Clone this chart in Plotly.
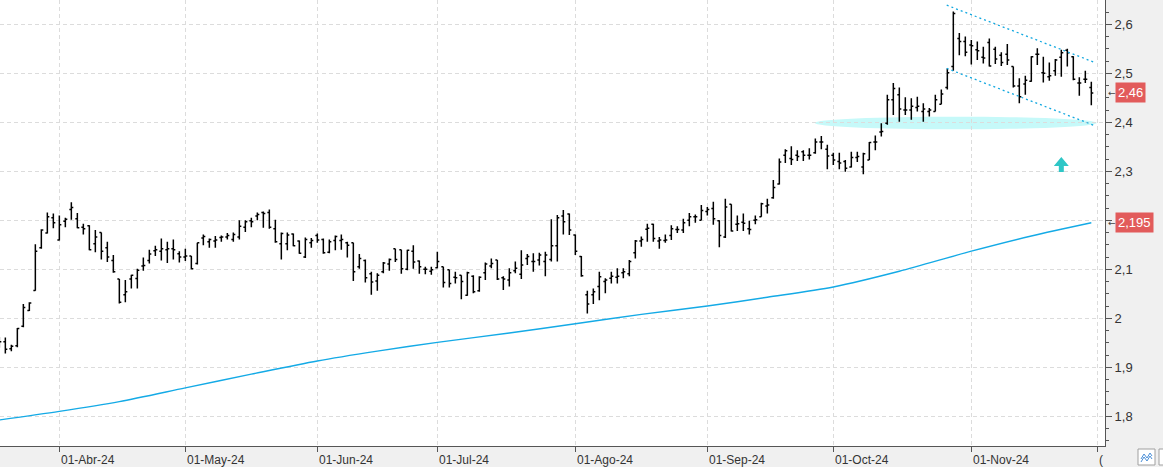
import pandas as pd
import plotly.graph_objects as go

# ---------------- data ----------------
holidays = ["2024-03-29", "2024-04-01", "2024-05-01"]
dates = [d for d in pd.bdate_range("2024-03-15", "2024-11-29") if d.strftime("%Y-%m-%d") not in holidays]

open_ = [1.950, 1.952, 1.938, 1.944, 1.984, 2.016, 2.057, 2.144, 2.174, 2.205,
         2.160, 2.198, 2.222, 2.203, 2.186, 2.189, 2.152, 2.175, 2.144, 2.118,
         2.080, 2.048, 2.080, 2.081, 2.107, 2.118, 2.138, 2.137, 2.140, 2.142,
         2.132, 2.125, 2.127, 2.112, 2.164, 2.156, 2.158, 2.165, 2.166, 2.161,
         2.166, 2.186, 2.199, 2.209, 2.216, 2.216, 2.183, 2.152, 2.152, 2.172,
         2.158, 2.125, 2.154, 2.169, 2.161, 2.135, 2.159, 2.159, 2.154, 2.154,
         2.105, 2.118, 2.091, 2.076, 2.095, 2.111, 2.142, 2.140, 2.100, 2.137,
         2.117, 2.100, 2.096, 2.103, 2.105, 2.099, 2.084, 2.088, 2.047, 2.086,
         2.056, 2.093, 2.107, 2.119, 2.083, 2.078, 2.097, 2.090, 2.122, 2.116,
         2.119, 2.116, 2.120, 2.148, 2.209, 2.213, 2.170, 2.126, 2.048, 2.048,
         2.065, 2.075, 2.082, 2.084, 2.093, 2.091, 2.134, 2.158, 2.182, 2.192,
         2.158, 2.159, 2.169, 2.181, 2.180, 2.200, 2.207, 2.200, 2.218, 2.224,
         2.199, 2.166, 2.233, 2.192, 2.196, 2.183, 2.200, 2.207, 2.229, 2.246,
         2.274, 2.333, 2.326, 2.333, 2.340, 2.333, 2.338, 2.360, 2.345, 2.333,
         2.320, 2.320, 2.309, 2.328, 2.309, 2.323, 2.360, 2.380, 2.398, 2.446,
         2.456, 2.425, 2.425, 2.430, 2.422, 2.422, 2.422, 2.437, 2.471, 2.514,
         2.571, 2.565, 2.558, 2.548, 2.533, 2.563, 2.549, 2.537, 2.539, 2.514,
         2.474, 2.478, 2.484, 2.539, 2.501, 2.493, 2.505, 2.533, 2.547, 2.534,
         2.480, 2.488, 2.471]
high = [1.962, 1.961, 1.946, 1.980, 2.029, 2.033, 2.151, 2.182, 2.216, 2.214,
        2.210, 2.205, 2.237, 2.215, 2.193, 2.190, 2.180, 2.175, 2.156, 2.129,
        2.080, 2.078, 2.089, 2.101, 2.124, 2.140, 2.148, 2.163, 2.156, 2.161,
        2.137, 2.142, 2.127, 2.154, 2.171, 2.163, 2.168, 2.169, 2.174, 2.175,
        2.200, 2.200, 2.205, 2.216, 2.218, 2.222, 2.201, 2.175, 2.175, 2.173,
        2.159, 2.165, 2.164, 2.173, 2.163, 2.161, 2.169, 2.171, 2.156, 2.154,
        2.131, 2.120, 2.095, 2.092, 2.115, 2.122, 2.142, 2.140, 2.140, 2.149,
        2.118, 2.105, 2.105, 2.136, 2.105, 2.099, 2.095, 2.088, 2.095, 2.088,
        2.086, 2.114, 2.122, 2.119, 2.086, 2.102, 2.116, 2.139, 2.131, 2.133,
        2.134, 2.136, 2.202, 2.211, 2.221, 2.214, 2.171, 2.127, 2.056, 2.061,
        2.095, 2.082, 2.095, 2.102, 2.102, 2.119, 2.160, 2.167, 2.193, 2.193,
        2.166, 2.171, 2.190, 2.188, 2.203, 2.215, 2.212, 2.231, 2.227, 2.238,
        2.200, 2.244, 2.233, 2.210, 2.214, 2.199, 2.210, 2.236, 2.244, 2.282,
        2.326, 2.345, 2.351, 2.343, 2.343, 2.347, 2.367, 2.372, 2.354, 2.338,
        2.338, 2.323, 2.340, 2.340, 2.338, 2.360, 2.373, 2.398, 2.456, 2.480,
        2.471, 2.451, 2.449, 2.452, 2.439, 2.429, 2.456, 2.467, 2.510, 2.626,
        2.582, 2.575, 2.568, 2.565, 2.554, 2.571, 2.554, 2.543, 2.560, 2.514,
        2.490, 2.495, 2.535, 2.551, 2.534, 2.522, 2.529, 2.548, 2.550, 2.535,
        2.492, 2.505, 2.483]
low = [1.940, 1.928, 1.933, 1.941, 1.982, 2.015, 2.056, 2.142, 2.173, 2.184,
       2.159, 2.186, 2.201, 2.184, 2.171, 2.139, 2.135, 2.120, 2.115, 2.093,
       2.030, 2.033, 2.061, 2.061, 2.097, 2.112, 2.127, 2.118, 2.113, 2.120,
       2.114, 2.117, 2.100, 2.110, 2.149, 2.144, 2.144, 2.156, 2.161, 2.156,
       2.161, 2.176, 2.186, 2.200, 2.185, 2.183, 2.154, 2.120, 2.139, 2.147,
       2.132, 2.123, 2.144, 2.154, 2.132, 2.133, 2.139, 2.140, 2.124, 2.076,
       2.101, 2.073, 2.048, 2.056, 2.092, 2.097, 2.115, 2.091, 2.098, 2.101,
       2.091, 2.090, 2.089, 2.102, 2.063, 2.063, 2.071, 2.039, 2.046, 2.051,
       2.054, 2.078, 2.102, 2.078, 2.058, 2.065, 2.092, 2.080, 2.109, 2.095,
       2.108, 2.086, 2.116, 2.116, 2.171, 2.170, 2.129, 2.085, 2.010, 2.029,
       2.037, 2.051, 2.071, 2.071, 2.082, 2.086, 2.122, 2.146, 2.156, 2.156,
       2.142, 2.154, 2.160, 2.174, 2.174, 2.188, 2.195, 2.200, 2.210, 2.191,
       2.145, 2.164, 2.177, 2.178, 2.178, 2.171, 2.192, 2.207, 2.214, 2.244,
       2.273, 2.317, 2.313, 2.321, 2.321, 2.324, 2.336, 2.345, 2.304, 2.313,
       2.304, 2.299, 2.308, 2.319, 2.294, 2.323, 2.343, 2.371, 2.395, 2.415,
       2.401, 2.415, 2.405, 2.422, 2.401, 2.412, 2.422, 2.437, 2.467, 2.505,
       2.537, 2.535, 2.518, 2.527, 2.520, 2.514, 2.519, 2.515, 2.517, 2.471,
       2.439, 2.456, 2.483, 2.517, 2.481, 2.485, 2.495, 2.493, 2.514, 2.486,
       2.454, 2.480, 2.435]
close = [1.952, 1.937, 1.943, 1.979, 2.022, 2.031, 2.137, 2.180, 2.207, 2.195,
         2.191, 2.202, 2.226, 2.185, 2.183, 2.140, 2.166, 2.137, 2.125, 2.095,
         2.033, 2.054, 2.088, 2.098, 2.108, 2.131, 2.140, 2.142, 2.142, 2.140,
         2.125, 2.127, 2.101, 2.154, 2.167, 2.161, 2.160, 2.166, 2.169, 2.171,
         2.188, 2.197, 2.197, 2.212, 2.214, 2.186, 2.156, 2.173, 2.170, 2.148,
         2.133, 2.161, 2.159, 2.160, 2.134, 2.156, 2.167, 2.161, 2.149, 2.095,
         2.122, 2.083, 2.074, 2.088, 2.113, 2.120, 2.120, 2.101, 2.139, 2.115,
         2.105, 2.100, 2.099, 2.116, 2.073, 2.071, 2.083, 2.075, 2.093, 2.054,
         2.084, 2.111, 2.112, 2.080, 2.080, 2.093, 2.102, 2.109, 2.126, 2.116,
         2.129, 2.129, 2.148, 2.205, 2.197, 2.180, 2.137, 2.087, 2.029, 2.054,
         2.085, 2.078, 2.086, 2.086, 2.095, 2.116, 2.158, 2.161, 2.184, 2.163,
         2.160, 2.160, 2.183, 2.181, 2.195, 2.207, 2.207, 2.220, 2.222, 2.203,
         2.169, 2.227, 2.178, 2.193, 2.194, 2.181, 2.201, 2.234, 2.231, 2.267,
         2.319, 2.342, 2.324, 2.330, 2.333, 2.333, 2.360, 2.360, 2.331, 2.323,
         2.317, 2.306, 2.328, 2.330, 2.336, 2.359, 2.360, 2.381, 2.446, 2.469,
         2.427, 2.425, 2.433, 2.433, 2.427, 2.425, 2.446, 2.458, 2.501, 2.622,
         2.565, 2.543, 2.556, 2.546, 2.531, 2.515, 2.529, 2.522, 2.527, 2.474,
         2.452, 2.486, 2.534, 2.539, 2.500, 2.495, 2.527, 2.542, 2.542, 2.488,
         2.480, 2.488, 2.460]

# moving average read at selected bars (bar index, value)
ma_idx = [0, 10, 20, 31, 42, 53, 63, 73, 85, 96, 107, 118, 128, 139, 150, 162, 172, 182]
ma_val = [1.7925, 1.810, 1.830, 1.858, 1.886, 1.913, 1.933, 1.951, 1.970, 1.989,
          2.008, 2.025, 2.043, 2.064, 2.096, 2.137, 2.168, 2.195]

# trend channel (bar index, value)
upper_line = [(157.9, 2.639), (182.6, 2.522)]
lower_line = [(157.9, 2.510), (182.6, 2.393)]
zone_x = [135.9, 182.9]
zone_y = [2.3857, 2.4114]
arrow_pos = (177.0, 2.2986)

y_ticks = [1.8, 1.9, 2.0, 2.1, 2.2, 2.3, 2.4, 2.5, 2.6]
y_tick_text = ["1,8", "1,9", "2", "2,1", "", "2,3", "2,4", "2,5", "2,6"]
tick_labels = ["01-Abr-24", "01-May-24", "01-Jun-24", "01-Jul-24", "01-Ago-24",
               "01-Sep-24", "01-Oct-24", "01-Nov-24", "("]
last_price = 2.46
ma_last = 2.195

# ---------------- figure ----------------
x = list(range(len(dates)))
months = pd.Series(dates).dt.to_period("M")
tick_idx = [i for i in range(1, len(dates)) if months[i] != months[i - 1]]
tick_idx.append(len(dates))  # next month start (Dec)

W, H = 1163, 467
ML, MR, MT, MB = 0, 58, 0, 21
PW = W - ML - MR
PH = H - MT - MB

fig = go.Figure()
fig.add_trace(go.Scatter(x=ma_idx, y=ma_val, mode="lines",
                         line=dict(color="#14aae6", width=1.4, shape="spline", smoothing=0.8),
                         hoverinfo="skip"))
fig.add_trace(go.Ohlc(x=x, open=open_, high=high, low=low, close=close,
                      increasing=dict(line=dict(color="black", width=1.5)),
                      decreasing=dict(line=dict(color="black", width=1.5)),
                      tickwidth=0.33, hoverinfo="skip"))

shapes = []
shapes.append(dict(type="circle", xref="x", yref="y", x0=zone_x[0], x1=zone_x[1],
                   y0=zone_y[0], y1=zone_y[1], fillcolor="#c6f9f9",
                   line=dict(width=0), layer="below"))
for (p0, p1) in [upper_line, lower_line]:
    shapes.append(dict(type="line", xref="x", yref="y", x0=p0[0], y0=p0[1],
                       x1=p1[0], y1=p1[1],
                       line=dict(color="#12a8e0", width=1.3, dash="2px,3px")))
shapes.append(dict(type="path", xref="x", yref="y", xsizemode="pixel", ysizemode="pixel",
                   xanchor=arrow_pos[0], yanchor=arrow_pos[1],
                   path="M -2.5 0 L 2.5 0 L 2.5 6 L 7.5 6 L 0 15 L -7.5 6 L -2.5 6 Z",
                   fillcolor="#2fc6c6", line=dict(width=0)))

# small toolbar icons bottom right
def px2paper_x(px):
    return (px - ML) / PW
def py2paper_y(py):
    return (MT + PH - py) / PH
shapes.append(dict(type="rect", xref="paper", yref="paper",
                   x0=px2paper_x(1138), x1=px2paper_x(1155),
                   y0=py2paper_y(465), y1=py2paper_y(449),
                   fillcolor="white", line=dict(color="#a0a0a0", width=1)))
shapes.append(dict(type="rect", xref="paper", yref="paper",
                   x0=px2paper_x(1159), x1=px2paper_x(1170),
                   y0=py2paper_y(465), y1=py2paper_y(449),
                   fillcolor="white", line=dict(color="#a0a0a0", width=1)))
zig = [(1141, 459), (1144, 454), (1147, 458), (1150, 453), (1152, 456)]
shapes.append(dict(type="path", xref="paper", yref="paper",
                   path="M " + " L ".join(f"{px2paper_x(a)} {py2paper_y(b)}" for a, b in zig),
                   line=dict(color="#4a8fd8", width=1)))
zig2 = [(1141, 462), (1144, 457), (1147, 461), (1150, 456), (1152, 459)]
shapes.append(dict(type="path", xref="paper", yref="paper",
                   path="M " + " L ".join(f"{px2paper_x(a)} {py2paper_y(b)}" for a, b in zig2),
                   line=dict(color="#4a8fd8", width=1)))

annotations = []
for ti, lab in zip(tick_idx, tick_labels):
    annotations.append(dict(x=ti, xref="x", y=0, yref="paper", text=lab,
                            showarrow=False, xanchor="left", yanchor="top",
                            xshift=0, yshift=-5,
                            font=dict(family="Liberation Sans, Arial", size=12, color="#333333")))
for val, txt in [(last_price, "2,46"), (ma_last, "2,195")]:
    annotations.append(dict(x=px2paper_x(1115), xref="paper", y=val, yref="y", text=txt,
                            showarrow=False, xanchor="left", yanchor="middle",
                            bgcolor="#e25b5b", borderpad=2,
                            font=dict(family="Liberation Sans, Arial", size=13, color="white")))
    annotations.append(dict(x=px2paper_x(1106), xref="paper", y=val, yref="y", text="←",
                            showarrow=False, xanchor="left", yanchor="middle",
                            font=dict(family="DejaVu Sans", size=9, color="#444444")))

fig.update_layout(
    width=W, height=H,
    margin=dict(l=ML, r=MR, t=MT, b=MB, pad=0),
    paper_bgcolor="#f0f0f0", plot_bgcolor="white",
    showlegend=False, hovermode=False,
    separators=",.",
    shapes=shapes, annotations=annotations,
    xaxis=dict(range=[0.11, 184.28], tickmode="array", tickvals=tick_idx,
               ticktext=[""] * len(tick_idx), showticklabels=False,
               ticks="outside", ticklen=5, tickcolor="#555555",
               showgrid=True, gridcolor="#dcdcdc", griddash="4px,3px", gridwidth=1,
               showline=True, linecolor="#555555", linewidth=1, zeroline=False,
               rangeslider=dict(visible=False), fixedrange=True),
    yaxis=dict(side="right", range=[1.7394, 2.6496], tickmode="array",
               tickvals=y_ticks, ticktext=y_tick_text,
               ticks="outside", ticklen=6, tickcolor="#555555",
               minor=dict(tickmode="linear", dtick=0.025, tick0=0, ticks="outside", ticklen=3,
                          tickcolor="#555555", showgrid=False),
               showgrid=True, gridcolor="#dcdcdc", griddash="4px,3px", gridwidth=1,
               showline=True, linecolor="#555555", linewidth=1, zeroline=False,
               tickfont=dict(family="Liberation Sans, Arial", size=13, color="#333333"),
               fixedrange=True),
)

fig.write_html("out.html")
